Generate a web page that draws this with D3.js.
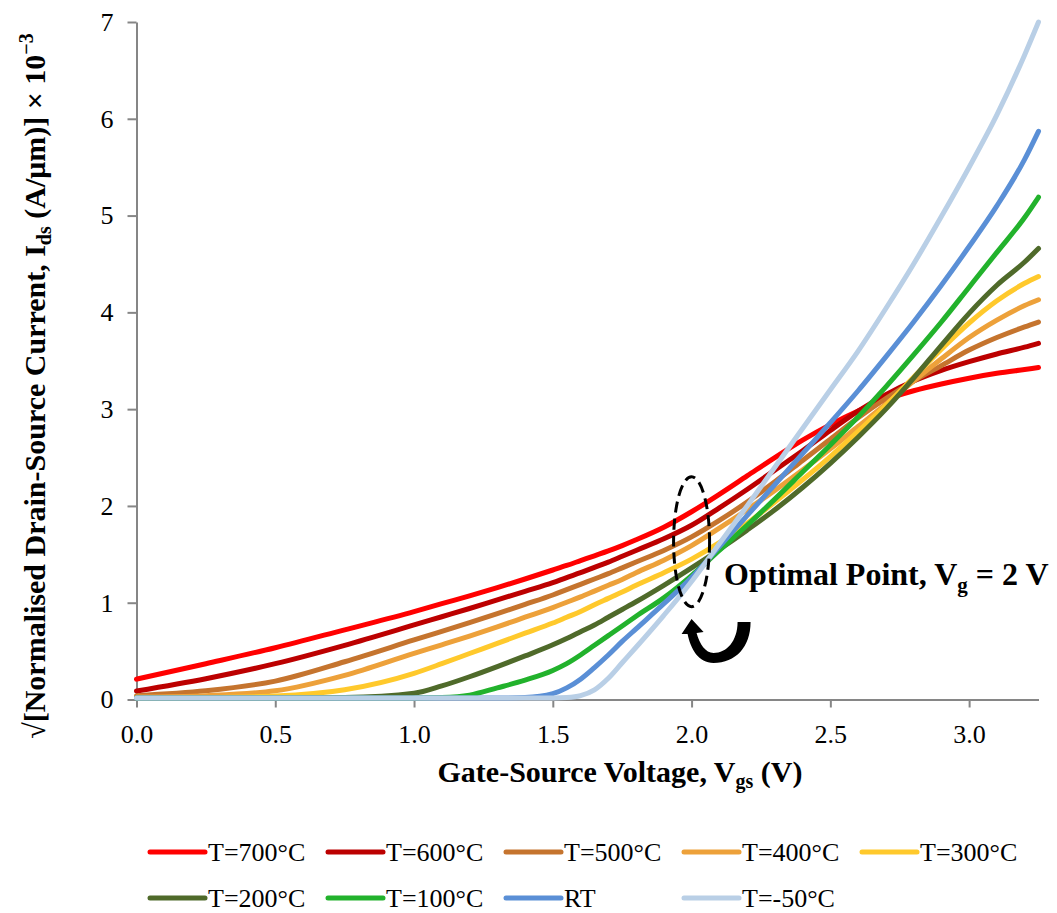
<!DOCTYPE html>
<html>
<head>
<meta charset="utf-8">
<script src="https://cdn.jsdelivr.net/npm/d3@7"></script>
<style>
  html, body { margin: 0; padding: 0; background: #ffffff; }
  svg { display: block; }
  text { font-family: "Liberation Serif", "Times New Roman", serif; fill: #000; }
</style>
</head>
<body>
<svg id="chart" width="1057" height="913"></svg>
<script>
// Gate-source voltage grid (V)
const vgs = [0, 0.25, 0.5, 0.75, 1.0, 1.1, 1.2, 1.3, 1.4, 1.5, 1.55, 1.6, 1.65, 1.7, 1.75, 1.8,
             1.9, 2.0, 2.1, 2.2, 2.3, 2.4, 2.5, 2.6, 2.7, 2.8, 2.9, 3.0, 3.1, 3.2, 3.25];

// sqrt(normalised drain-source current) x 10^-3 for each temperature
const t700 = [0.21, 0.37, 0.535, 0.72, 0.907, 0.99, 1.07, 1.155, 1.245, 1.338, 1.385, 1.435, 1.485, 1.535, 1.59, 1.65,
              1.78, 1.94, 2.12, 2.31, 2.50, 2.68, 2.84, 2.98, 3.10, 3.19, 3.26, 3.32, 3.37, 3.41, 3.43];
const t600 = [0.088, 0.215, 0.37, 0.56, 0.77, 0.855, 0.94, 1.03, 1.118, 1.207, 1.26, 1.31, 1.365, 1.42, 1.48, 1.54,
              1.66, 1.80, 1.98, 2.17, 2.37, 2.57, 2.78, 2.98, 3.15, 3.29, 3.40, 3.49, 3.57, 3.64, 3.68];
const t500 = [0.04, 0.09, 0.19, 0.39, 0.615, 0.705, 0.795, 0.888, 0.983, 1.08, 1.135, 1.19, 1.245, 1.30, 1.36, 1.42,
              1.54, 1.68, 1.85, 2.04, 2.25, 2.47, 2.69, 2.91, 3.11, 3.29, 3.45, 3.61, 3.74, 3.85, 3.90];
const t400 = [0.025, 0.04, 0.09, 0.25, 0.477, 0.565, 0.655, 0.75, 0.85, 0.95, 1.005, 1.06, 1.12, 1.18, 1.24, 1.31,
              1.44, 1.59, 1.77, 1.96, 2.16, 2.37, 2.59, 2.82, 3.05, 3.29, 3.52, 3.74, 3.92, 4.07, 4.13];
const t300 = [0.015, 0.02, 0.035, 0.10, 0.27, 0.37, 0.475, 0.58, 0.685, 0.79, 0.85, 0.91, 0.98, 1.045, 1.11, 1.18,
              1.31, 1.45, 1.62, 1.82, 2.04, 2.27, 2.51, 2.77, 3.04, 3.33, 3.62, 3.89, 4.12, 4.30, 4.37];
const t200 = [0.015, 0.015, 0.015, 0.02, 0.064, 0.14, 0.235, 0.34, 0.45, 0.565, 0.63, 0.70, 0.77, 0.85, 0.93, 1.01,
              1.18, 1.36, 1.55, 1.75, 1.96, 2.19, 2.44, 2.71, 3.00, 3.32, 3.66, 3.99, 4.28, 4.52, 4.66];
const t100 = [0.015, 0.015, 0.015, 0.015, 0.015, 0.02, 0.045, 0.12, 0.20, 0.30, 0.37, 0.46, 0.56, 0.66, 0.76, 0.86,
              1.05, 1.28, 1.54, 1.80, 2.07, 2.35, 2.63, 2.92, 3.23, 3.56, 3.90, 4.26, 4.62, 4.98, 5.19];
const tRT  = [0.015, 0.015, 0.015, 0.015, 0.015, 0.015, 0.015, 0.015, 0.02, 0.06, 0.12, 0.21, 0.33, 0.46, 0.60, 0.73,
              0.99, 1.26, 1.58, 1.90, 2.22, 2.54, 2.86, 3.19, 3.54, 3.90, 4.28, 4.68, 5.10, 5.58, 5.87];
const tm50 = [0.015, 0.015, 0.015, 0.015, 0.015, 0.015, 0.015, 0.015, 0.015, 0.015, 0.02, 0.04, 0.10, 0.22, 0.38, 0.54,
              0.87, 1.22, 1.61, 2.00, 2.40, 2.80, 3.20, 3.60, 4.04, 4.50, 4.99, 5.50, 6.04, 6.66, 7.00];

const seriesNames  = ["T=700°C", "T=600°C", "T=500°C", "T=400°C", "T=300°C", "T=200°C", "T=100°C", "RT", "T=-50°C"];
const seriesValues = [t700, t600, t500, t400, t300, t200, t100, tRT, tm50];
const seriesColors = ["#FF0000", "#BC0000", "#C5742E", "#EDA13A", "#FFC92C", "#4F6A2A", "#22B22C", "#5A8FD6", "#B9CFE6"];

const xTicks = [0, 0.5, 1.0, 1.5, 2.0, 2.5, 3.0];
const yTicks = [0, 1, 2, 3, 4, 5, 6, 7];

const svg = d3.select("#chart");
svg.append("rect").attr("width", 1057).attr("height", 913).attr("fill", "#fff");

const x = d3.scaleLinear().domain([0, 3.25]).range([136.5, 1038.5]);
const y = d3.scaleLinear().domain([0, 7]).range([699.5, 22]);

const axisColor = "#868686";

// x axis
const gx = svg.append("g")
  .attr("transform", `translate(0,${y(0)})`)
  .call(d3.axisBottom(x).tickValues(xTicks).tickFormat(d3.format(".1f")).tickSizeInner(8).tickSizeOuter(0));
gx.select(".domain").attr("stroke", axisColor).attr("stroke-width", 2);
gx.selectAll(".tick line").attr("stroke", axisColor).attr("stroke-width", 2);
gx.selectAll(".tick text")
  .attr("y", 43.5).attr("dy", 0)
  .style("font-family", '"Liberation Serif", serif').style("font-size", "26px").attr("fill", "#000");

// y axis
const gy = svg.append("g")
  .attr("transform", `translate(${x(0)},0)`)
  .call(d3.axisLeft(y).tickValues(yTicks).tickFormat(d3.format("d")).tickSizeInner(9).tickSizeOuter(0).tickPadding(14));
gy.select(".domain").attr("stroke", axisColor).attr("stroke-width", 2);
gy.selectAll(".tick line").attr("stroke", axisColor).attr("stroke-width", 2);
gy.selectAll(".tick text")
  .style("font-family", '"Liberation Serif", serif').style("font-size", "26px").attr("fill", "#000");

// series lines
const line = d3.line()
  .x((d, i) => x(vgs[i]))
  .y(d => y(d))
  .curve(d3.curveMonotoneX);

svg.append("g").selectAll("path")
  .data(seriesValues)
  .join("path")
  .attr("d", d => line(d))
  .attr("fill", "none")
  .attr("stroke", (d, i) => seriesColors[i])
  .attr("stroke-width", 5)
  .attr("stroke-linejoin", "round")
  .attr("stroke-linecap", "round");

// x axis title
const xt = svg.append("text")
  .attr("x", 620).attr("y", 782)
  .attr("text-anchor", "middle")
  .style("font-size", "30px").style("font-weight", "bold");
xt.append("tspan").text("Gate-Source Voltage, V");
xt.append("tspan").text("gs").style("font-size", "20px").attr("dy", 6);
xt.append("tspan").text(" (V)").attr("dy", -6);

// y axis title
const yt = svg.append("text")
  .attr("transform", "translate(45,386) rotate(-90)")
  .attr("text-anchor", "middle")
  .style("font-size", "30px").style("font-weight", "bold");
yt.append("tspan").text("√[Normalised Drain-Source Current, I");
yt.append("tspan").text("ds").style("font-size", "20px").attr("dy", 6);
yt.append("tspan").text(" (A/μm)] × 10").attr("dy", -6);
yt.append("tspan").text("−3").style("font-size", "20px").attr("dy", -12);

// optimal point marker: dashed ellipse around Vg = 2 V
svg.append("ellipse")
  .attr("cx", x(2.0)).attr("cy", y(1.63))
  .attr("rx", 18).attr("ry", 65)
  .attr("fill", "none")
  .attr("stroke", "#000")
  .attr("stroke-width", 3)
  .attr("stroke-dasharray", "11 6");

// curved arrow under the ellipse
const ax = x(2.0), ay = y(0.8);
svg.append("path")
  .attr("transform", `translate(${ax},${ay})`)
  .attr("d", "M59,0 C59,25 44,41 22,41 C7,41 -1,27 -4,12 L-10,12 L0,-3 L12,10 L5,11 C8,22 14,31 22,31 C35,31 46,19 46,0 Z")
  .attr("fill", "#000");

// annotation
const ann = svg.append("text")
  .attr("x", x(2.117)).attr("y", y(1.18))
  .style("font-size", "32px").style("font-weight", "bold");
ann.append("tspan").text("Optimal Point, V");
ann.append("tspan").text("g").style("font-size", "21px").attr("dy", 7);
ann.append("tspan").text(" = 2 V").attr("dy", -7);

// legend
const legendRows = [852, 898];
const legend = svg.append("g");
seriesNames.forEach((name, i) => {
  const row = i < 5 ? 0 : 1;
  const col = i < 5 ? i : i - 5;
  const lx = 150 + col * 178;
  const ly = legendRows[row];
  legend.append("line")
    .attr("x1", lx).attr("x2", lx + 55)
    .attr("y1", ly).attr("y2", ly)
    .attr("stroke", seriesColors[i])
    .attr("stroke-width", 5)
    .attr("stroke-linecap", "round");
  legend.append("text")
    .attr("x", lx + 58).attr("y", ly + 8.5)
    .style("font-size", "26px")
    .text(name);
});
</script>
</body>
</html>
